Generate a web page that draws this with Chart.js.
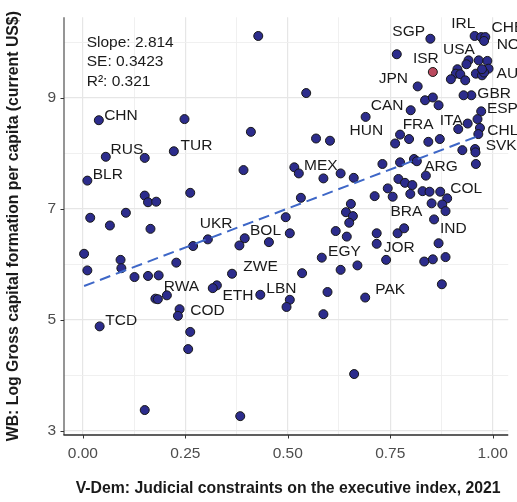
<!DOCTYPE html>
<html>
<head>
<meta charset="utf-8">
<script src="https://cdn.jsdelivr.net/npm/chart.js@4/dist/chart.umd.min.js"></script>
<style>
  html, body { margin: 0; padding: 0; background: #ffffff; }
  canvas { display: block; }
</style>
</head>
<body>
<canvas id="chart" width="517" height="502"></canvas>
<script>
// Country codes ('' = point drawn without a label)
const countryCodes = [
  '', 'CHN', '', '', 'RUS', '', 'TUR', '', 'BLR', '',
  '', '', '', '', '', '', '', 'UKR', '', 'BOL',
  '', '', '', '', '', '', '', '', '', '',
  '', '', 'ZWE', 'ETH', '', 'RWA', '', '', 'LBN', '',
  '', 'COD', '', 'TCD', '', '', '', '', '', 'MEX',
  '', '', '', '', '', '', 'ARG', '', '', '',
  '', '', '', '', '', 'BRA', '', '', '', '',
  'COL', '', '', '', '', '', '', '', '', '',
  '', '', 'JOR', '', '', 'IND', '', '', '', '',
  '', 'EGY', '', '', '', '', 'PAK', '', '', 'SGP',
  '', 'ISR', 'IRL', 'CHE', '', 'NOR', 'JPN', '', 'USA', '',
  '', '', 'AUS', '', '', '', '', '', '', '',
  '', '', 'GBR', '', '', '', '', 'CAN', 'HUN', 'ESP',
  '', '', 'ITA', 'CHL', 'SVK', '', '', '', 'FRA', '',
  '', '', '', '', ''
];

// V-Dem judicial constraints on the executive index, 2021
const judicialIndex = [
  0.428, 0.039, 0.248, 0.410, 0.056, 0.151, 0.222, 0.392, 0.011, 0.151,
  0.159, 0.179, 0.262, 0.018, 0.105, 0.066, 0.165, 0.305, 0.269, 0.395,
  0.382, 0.454, 0.495, 0.505, 0.003, 0.011, 0.092, 0.094, 0.228, 0.126,
  0.159, 0.185, 0.364, 0.327, 0.317, 0.205, 0.177, 0.183, 0.433, 0.505,
  0.497, 0.236, 0.232, 0.041, 0.262, 0.257, 0.151, 0.384, 0.662, 0.516,
  0.527, 0.587, 0.629, 0.661, 0.731, 0.774, 0.808, 0.815, 0.959, 0.837,
  0.770, 0.786, 0.804, 0.532, 0.744, 0.756, 0.712, 0.799, 0.829, 0.846,
  0.872, 0.889, 0.851, 0.877, 0.885, 0.654, 0.642, 0.659, 0.650, 0.617,
  0.644, 0.717, 0.717, 0.768, 0.784, 0.857, 0.868, 0.885, 0.854, 0.833,
  0.740, 0.583, 0.670, 0.629, 0.535, 0.876, 0.689, 0.597, 0.587, 0.848,
  0.766, 0.854, 0.956, 0.972, 0.982, 0.979, 0.817, 0.545, 0.941, 0.936,
  0.966, 0.987, 0.990, 0.914, 0.910, 0.921, 0.933, 0.898, 0.959, 0.974,
  0.979, 0.974, 0.948, 0.929, 0.835, 0.854, 0.868, 0.800, 0.690, 0.972,
  0.963, 0.939, 0.916, 0.969, 0.965, 0.957, 0.958, 0.926, 0.774, 0.796,
  0.762, 0.843, 0.871, 0.569, 0.603
];

// World Bank: log gross capital formation per capita (current US$)
const logCapitalFormation = [
  10.12, 8.60, 8.62, 8.39, 7.94, 7.92, 8.04, 7.70, 7.51, 7.24,
  7.12, 7.13, 7.29, 6.84, 6.93, 6.70, 6.64, 6.45, 6.33, 6.47,
  6.34, 6.40, 6.85, 6.56, 6.19, 5.89, 6.08, 5.93, 6.03, 5.77,
  5.79, 5.80, 5.83, 5.62, 5.57, 5.44, 5.38, 5.37, 5.45, 5.36,
  5.23, 5.19, 5.07, 4.88, 4.78, 4.47, 3.37, 3.26, 4.02, 7.75,
  7.64, 7.55, 7.64, 7.56, 7.81, 7.84, 7.90, 7.86, 7.81, 7.60,
  7.54, 7.47, 7.43, 7.20, 7.37, 7.22, 7.23, 7.27, 7.32, 7.31,
  7.31, 7.19, 7.10, 7.08, 6.96, 7.09, 6.94, 6.87, 6.75, 6.60,
  6.50, 6.56, 6.37, 6.56, 6.65, 6.81, 6.38, 6.13, 6.09, 6.05,
  6.08, 6.12, 5.98, 5.90, 5.84, 5.64, 5.40, 5.50, 5.10, 10.07,
  9.79, 9.47, 10.12, 10.10, 10.10, 10.03, 9.21, 9.09, 9.68, 9.61,
  9.68, 9.67, 9.53, 9.52, 9.44, 9.43, 9.32, 9.34, 9.44, 9.41,
  9.46, 9.52, 9.05, 9.05, 8.96, 9.01, 8.87, 8.78, 8.66, 8.76,
  8.62, 8.54, 8.44, 8.46, 8.35, 8.08, 8.02, 8.06, 8.34, 8.26,
  8.18, 8.21, 8.26, 8.27, 8.23
];

const highlightedCountry = 'ISR';

// Linear fit
const fitSlope = 2.814;
const fitSE = 0.3423;
const fitR2 = 0.321;
const fitIntercept = 5.60;
const fitRange = [0.003, 0.97];

// Axis ticks
const xMajorTicks = [0, 0.25, 0.5, 0.75, 1];
const yMajorTicks = [3, 5, 7, 9];

const xTitle = 'V-Dem: Judicial constraints on the executive index, 2021';
const yTitle = 'WB: Log Gross capital formation per capita (current US$)';

// Label placement relative to each labelled point: [dx, dy, align]
const labelPlacement = {
  CHN: [5.3, -6, 'left'],   RUS: [4.7, -8.7, 'left'], TUR: [6.7, -6.3, 'left'],
  BLR: [5.4, -6.7, 'left'], UKR: [8.3, -16.7, 'center'], BOL: [5.3, -8.7, 'left'],
  ZWE: [11.3, -8.6, 'left'], RWA: [-3, -9.7, 'left'], ETH: [5.6, 8.6, 'left'],
  LBN: [6, -7.6, 'left'],   COD: [10.7, 0, 'left'],   TCD: [5.7, -6.7, 'left'],
  MEX: [9.7, -2.4, 'left'], ARG: [10.3, 6, 'left'],   COL: [10, -4, 'left'],
  BRA: [-2.3, 13.6, 'left'], IND: [6, 7.7, 'left'],   EGY: [6.3, -7.3, 'left'],
  JOR: [7, 2.7, 'left'],    PAK: [10, -8.7, 'left'],  SGP: [-5.3, -8, 'right'],
  ISR: [-7, -14.3, 'center'], IRL: [-11.4, -14, 'center'], CHE: [10.3, -11, 'left'],
  NOR: [12.6, 2.7, 'left'], USA: [-9.5, -11.6, 'center'], JPN: [-9.7, -9.3, 'right'],
  AUS: [8, 3.7, 'left'],    GBR: [6, -3.3, 'left'],   CAN: [-7.3, -5.3, 'right'],
  ESP: [5.7, -4, 'left'],   HUN: [0.7, 12.3, 'center'], FRA: [2.6, -11.6, 'left'],
  ITA: [-7, -10, 'center'], CHL: [7.3, 1.6, 'left'],  SVK: [7.3, 10, 'left']
};

const FONT = "'Liberation Sans', Arial, Helvetica, sans-serif";
const LABEL_SIZE = 15.5;
const TITLE_SIZE = 15.8;

const points = countryCodes.map((code, i) => ({ x: judicialIndex[i], y: logCapitalFormation[i], code }));
const fitLine = fitRange.map(x => ({ x, y: fitIntercept + fitSlope * x }));

const isMajor = (v, list) => list.some(t => Math.abs(t - v) < 1e-6);

const annotations = {
  id: 'annotations',
  afterDatasetsDraw(chart) {
    const ctx = chart.ctx;
    const meta = chart.getDatasetMeta(1);
    ctx.save();
    ctx.fillStyle = '#1a1a1a';
    ctx.font = `${LABEL_SIZE}px ${FONT}`;
    ctx.textBaseline = 'alphabetic';
    const capHalf = LABEL_SIZE * 0.358;
    points.forEach((p, i) => {
      const place = labelPlacement[p.code];
      if (!p.code || !place) return;
      const el = meta.data[i];
      ctx.textAlign = place[2];
      ctx.fillText(p.code, el.x + place[0], el.y + place[1] + capHalf);
    });
    // Fit statistics
    ctx.textAlign = 'left';
    const stats = [`Slope: ${fitSlope}`, `SE: ${fitSE}`, `R\u00B2: ${fitR2}`];
    stats.forEach((s, k) => ctx.fillText(s, 86.7, 41.7 + k * 19.2 + capHalf));
    ctx.restore();
  },
  afterDraw(chart) {
    const ctx = chart.ctx;
    const { left, right, top, bottom } = chart.chartArea;
    const xs = chart.scales.x, ys = chart.scales.y;
    ctx.save();
    // Axis lines
    ctx.lineWidth = 1.3;
    ctx.strokeStyle = '#5c5c5c';
    ctx.beginPath();
    ctx.moveTo(left, top);
    ctx.lineTo(left, bottom);
    ctx.stroke();
    ctx.strokeStyle = '#2a2a2a';
    ctx.beginPath();
    ctx.moveTo(left - 0.6, bottom);
    ctx.lineTo(right, bottom);
    ctx.stroke();
    // Tick marks
    ctx.strokeStyle = '#333333';
    ctx.lineWidth = 1;
    ctx.beginPath();
    xMajorTicks.forEach(v => {
      const px = Math.round(xs.getPixelForValue(v)) + 0.5;
      ctx.moveTo(px, bottom);
      ctx.lineTo(px, bottom + 3.5);
    });
    yMajorTicks.forEach(v => {
      const py = Math.round(ys.getPixelForValue(v)) + 0.5;
      ctx.moveTo(left, py);
      ctx.lineTo(left - 3.5, py);
    });
    ctx.stroke();
    // Axis titles
    ctx.fillStyle = '#1a1a1a';
    ctx.font = `bold ${TITLE_SIZE}px ${FONT}`;
    ctx.textAlign = 'center';
    ctx.textBaseline = 'middle';
    ctx.fillText(xTitle, (left + right) / 2 + 2, 489);
    ctx.translate(14, (top + bottom) / 2);
    ctx.rotate(-Math.PI / 2);
    ctx.fillText(yTitle, 0, 0);
    ctx.restore();
  }
};

new Chart(document.getElementById('chart'), {
  data: {
    datasets: [
      {
        type: 'line',
        data: fitLine,
        borderColor: '#3e67c7',
        borderWidth: 2,
        borderDash: [11, 6],
        pointRadius: 0,
        fill: false,
        order: 0
      },
      {
        type: 'scatter',
        data: points,
        pointRadius: 4.5,
        pointBorderWidth: 1,
        pointBorderColor: '#161616',
        pointBackgroundColor: points.map(p => p.code === highlightedCountry ? '#bb4a5e' : '#2c2c8c'),
        order: 1
      }
    ]
  },
  options: {
    responsive: false,
    animation: false,
    events: [],
    devicePixelRatio: 1,
    layout: { padding: { top: 16, right: 7, left: 0, bottom: 0 } },
    plugins: { legend: { display: false }, tooltip: { enabled: false } },
    scales: {
      x: {
        type: 'linear',
        min: -0.046,
        max: 1.038,
        afterFit: s => { s.height = 67; },
        border: { display: false },
        grid: {
          drawTicks: false,
          color: c => isMajor(c.tick.value, xMajorTicks) ? '#e6e6e6' : '#eeeeee',
          lineWidth: c => isMajor(c.tick.value, xMajorTicks) ? 1.2 : 0.9
        },
        ticks: {
          stepSize: 0.125,
          includeBounds: false,
          autoSkip: false,
          maxRotation: 0,
          padding: 9,
          color: '#4d4d4d',
          font: { family: FONT, size: 15.5 },
          callback: v => isMajor(v, xMajorTicks) ? Number(v).toFixed(2) : ''
        }
      },
      y: {
        type: 'linear',
        min: 2.92,
        max: 10.457,
        afterFit: s => { s.width = 64; },
        border: { display: false },
        grid: {
          drawTicks: false,
          color: c => isMajor(c.tick.value, yMajorTicks) ? '#e6e6e6' : '#eeeeee',
          lineWidth: c => isMajor(c.tick.value, yMajorTicks) ? 1.2 : 0.9
        },
        ticks: {
          stepSize: 1,
          includeBounds: false,
          autoSkip: false,
          padding: 8,
          color: '#4d4d4d',
          font: { family: FONT, size: 15.5 },
          callback: v => isMajor(v, yMajorTicks) ? String(v) : ''
        }
      }
    }
  },
  plugins: [annotations]
});
</script>
</body>
</html>
